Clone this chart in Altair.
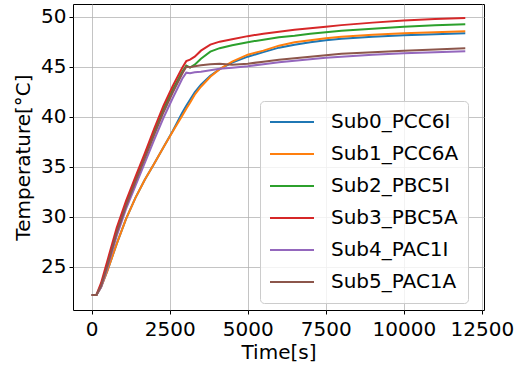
import altair as alt
import pandas as pd

# ---- data ----
time_s = [0, 150, 300, 500, 800, 1100, 1400, 1700, 2000, 2300, 2600, 2900,
          3030, 3150, 3300, 3500, 3800, 4100, 4500, 5000, 5500, 6000, 6500,
          7000, 7500, 8000, 9000, 10000, 11000, 11970]

sub0_pcc6i = [22.2, 22.2, 23.0, 24.6, 27.3, 29.8, 31.9, 33.7, 35.3, 36.95, 38.6, 40.4,
              41.1, 41.7, 42.45, 43.2, 44.1, 44.75, 45.4, 46.0, 46.45, 46.9, 47.2,
              47.45, 47.65, 47.8, 48.0, 48.15, 48.25, 48.35]
sub1_pcc6a = [22.2, 22.2, 23.0, 24.6, 27.3, 29.8, 31.9, 33.7, 35.3, 36.95, 38.55, 40.1,
              40.8, 41.4, 42.2, 43.0, 44.0, 44.75, 45.5, 46.2, 46.6, 47.1, 47.45,
              47.65, 47.85, 48.0, 48.2, 48.35, 48.45, 48.55]
sub2_pbc5i = [22.2, 22.2, 23.2, 25.3, 28.6, 31.3, 33.7, 36.05, 38.45, 40.75, 42.75, 44.5,
              45.1, 44.9, 45.2, 45.8, 46.5, 46.85, 47.15, 47.45, 47.7, 47.95, 48.1,
              48.3, 48.45, 48.6, 48.8, 49.0, 49.15, 49.25]
sub3_pbc5a = [22.2, 22.2, 23.4, 25.6, 28.9, 31.6, 34.0, 36.35, 38.8, 41.1, 43.1, 44.9,
              45.55, 45.7, 46.0, 46.6, 47.2, 47.5, 47.75, 48.05, 48.3, 48.5, 48.7,
              48.85, 49.0, 49.15, 49.4, 49.6, 49.75, 49.85]
sub4_pac1i = [22.2, 22.2, 23.0, 24.9, 28.1, 30.8, 33.1, 35.4, 37.7, 39.9, 41.9, 43.8,
              44.4, 44.35, 44.45, 44.5, 44.65, 44.8, 44.9, 45.05, 45.25, 45.45, 45.6,
              45.75, 45.9, 46.0, 46.2, 46.35, 46.45, 46.55]
sub5_pac1a = [22.2, 22.2, 23.1, 25.1, 28.4, 31.1, 33.5, 35.85, 38.2, 40.45, 42.45, 44.3,
              45.0, 44.95, 45.05, 45.15, 45.25, 45.3, 45.2, 45.3, 45.5, 45.7, 45.85,
              46.0, 46.15, 46.3, 46.45, 46.6, 46.72, 46.85]

names = ["Sub0_PCC6I", "Sub1_PCC6A", "Sub2_PBC5I", "Sub3_PBC5A", "Sub4_PAC1I", "Sub5_PAC1A"]
series = [sub0_pcc6i, sub1_pcc6a, sub2_pbc5i, sub3_pbc5a, sub4_pac1i, sub5_pac1a]
colors = ["#1f77b4", "#ff7f0e", "#2ca02c", "#d62728", "#9467bd", "#8c564b"]

x_ticks = [0, 2500, 5000, 7500, 10000, 12500]
y_ticks = [25, 30, 35, 40, 45, 50]

rows = []
for k, (name, vals) in enumerate(zip(names, series)):
    for t, v in zip(time_s, vals):
        rows.append({"Time": t, "Temp": v, "Series": name, "k": k})
df = pd.DataFrame(rows)

FONT = "DejaVu Sans"

chart = alt.Chart(df).mark_line(strokeWidth=2, clip=True).encode(
    x=alt.X("Time:Q",
            scale=alt.Scale(domain=[-600, 12570], nice=False, zero=False),
            axis=alt.Axis(title="Time[s]", values=x_ticks, format="d",
                          titleX=205.5, titleY=48, titleBaseline="alphabetic",
                          titleAlign="center")),
    y=alt.Y("Temp:Q",
            scale=alt.Scale(domain=[20.7, 51.26], nice=False, zero=False),
            axis=alt.Axis(title="Temperature[°C]", values=y_ticks,
                          titleX=-44, titleY=153, titleAngle=-90,
                          titleBaseline="alphabetic", titleAlign="center")),
    color=alt.Color("Series:N",
                    scale=alt.Scale(domain=names, range=colors),
                    legend=alt.Legend(title=None, orient="none",
                                      legendX=187, legendY=97)),
    detail="k:O",
).properties(
    width=411, height=306,
    autosize=alt.AutoSizeParams(type="none"),
    padding={"left": 73, "top": 4, "right": 31, "bottom": 57},
).configure_axis(
    labelFont=FONT, titleFont=FONT, labelFontSize=20, titleFontSize=20,
    labelColor="black", titleColor="black", titleFontWeight="normal",
    tickColor="black", tickSize=4, tickWidth=1, domain=False,
    grid=True, gridColor="#b0b0b0", gridWidth=1, gridOpacity=0.75,
).configure_axisX(labelPadding=5).configure_axisY(labelPadding=3).configure_view(
    stroke="black", strokeWidth=1,
).configure_legend(
    labelFont=FONT, labelFontSize=20, labelColor="black",
    symbolType="stroke", symbolSize=1936, symbolStrokeWidth=2,
    clipHeight=24, labelOffset=16, rowPadding=8, padding=9,
    fillColor="rgba(255,255,255,0.8)", strokeColor="#cccccc", cornerRadius=4,
)

chart.save("out.html", embed_options={"renderer": "svg", "actions": False})
